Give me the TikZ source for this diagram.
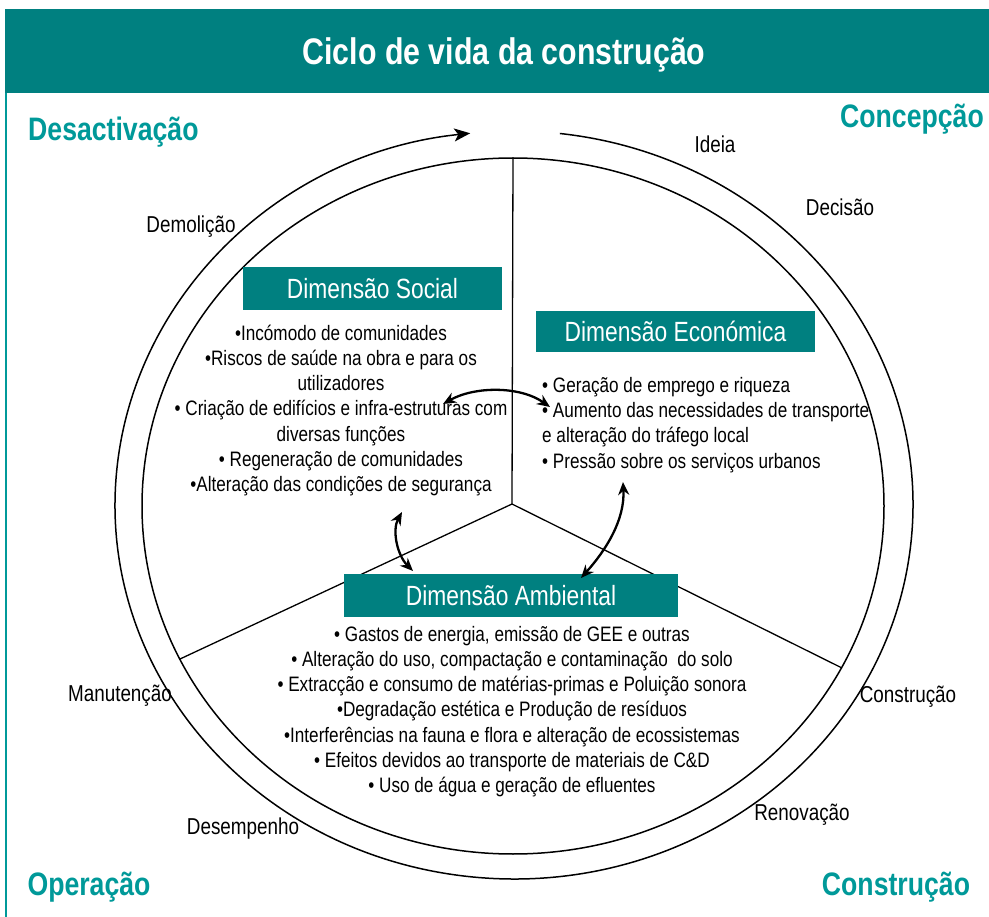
\documentclass[tikz,border=0pt]{standalone}
\usepackage{fontspec}
\setmainfont{Liberation Sans}[FakeStretch=0.82]
\usetikzlibrary{arrows.meta,calc}
\definecolor{barteal}{RGB}{0,128,128}
\definecolor{labteal}{RGB}{0,153,153}
\begin{document}
\begin{tikzpicture}[x=1pt,y=-1pt,
  body/.style={inner sep=0pt,font=\fontsize{20.9}{25.2}\selectfont},
  cyc/.style={inner sep=0pt,font=\fontsize{23}{25}\selectfont},
  corner/.style={inner sep=0pt,text=labteal,font=\bfseries\fontsize{32.5}{34}\selectfont},
  dimbox/.style={fill=barteal,draw=none,text=white,inner sep=0pt,font=\fontsize{27.8}{30}\selectfont},
  ring/.style={line width=1.5pt},
  divider/.style={line width=1.3pt},
  link/.style={line width=2.3pt,{Stealth[length=13pt,width=11pt]}-{Stealth[length=13pt,width=11pt]}}]
\useasboundingbox (0,0) rectangle (989,917);
% frame and title bar
\fill[barteal] (5,9.5) rectangle (989,93);
\draw[labteal,line width=2pt] (6,93) -- (6,917);
\node[inner sep=0pt,text=white,font=\bfseries\fontsize{37}{40}\selectfont] (title) at (504,55) {Ciclo de vida da construção};
% corner labels
\node[corner,anchor=west] (desact) at (28,132) {Desactivação};
\node[corner] (concep) at (912,119) {Concepção};
\node[corner] (operac) at (89,887) {Operação};
\node[corner] (constr) at (896,887) {Construção};
% ellipses
\coordinate (C1) at (513,506);
\coordinate (C2) at (514,505);
\draw[ring] (C1) ellipse [x radius=371pt, y radius=348pt];
\draw[ring,-{Stealth[length=16pt,width=13pt,inset=4pt]}] ($(C2)+(83.4:399pt and 374pt)$) arc[start angle=83.4, end angle=-263.7, x radius=399pt, y radius=374pt];
% dividers
\coordinate (ctr) at (512,504);
\coordinate (dtop) at (513,158);
\coordinate (dleft) at (180,659);
\coordinate (dright) at (841.6,667.8);
\draw[divider] (ctr) -- (dtop);
\draw[divider] (ctr) -- (dleft);
\draw[divider] (ctr) -- (dright);
% cycle labels
\node[cyc] (ideia) at (715,144) {Ideia};
\node[cyc] (decisao) at (840,207) {Decisão};
\node[cyc] (construcao) at (908,697) {Construção};
\node[cyc] (renovacao) at (802,815) {Renovação};
\node[cyc] (desempenho) at (243,829) {Desempenho};
\node[cyc] (manutencao) at (120,696) {Manutenção};
\node[cyc] (demolicao) at (191,227) {Demolição};
% dimension boxes
\node[dimbox,minimum width=259pt,minimum height=43pt] (social) at (372.5,288.5) {Dimensão Social};
\node[dimbox,minimum width=279pt,minimum height=41pt] (econ) at (675.5,331.5) {Dimensão Económica};
\node[dimbox,minimum width=334pt,minimum height=43pt] (amb) at (511,595.5) {Dimensão Ambiental};
% texts
\node[body,align=center] (soctxt) at (341,410.5) {•Incómodo de comunidades\\•Riscos de saúde na obra e para os\\utilizadores\\• Criação de edifícios e infra-estruturas com\\diversas funções\\• Regeneração de comunidades\\•Alteração das condições de segurança};
\node[body,align=left,anchor=west] (ecotxt) at (542,425) {• Geração de emprego e riqueza\\• Aumento das necessidades de transporte\\e alteração do tráfego local\\• Pressão sobre os serviços urbanos};
\node[body,align=center] (ambtxt) at (512,711.5) {• Gastos de energia, emissão de GEE e outras\\• Alteração do uso, compactação e contaminação\ \ do solo\\• Extracção e consumo de matérias-primas e Poluição sonora\\•Degradação estética e Produção de resíduos\\•Interferências na fauna e flora e alteração de ecossistemas\\• Efeitos devidos ao transporte de materiais de C\&D\\• Uso de água e geração de efluentes};
% links
\coordinate (se1) at (443,404);
\coordinate (se2) at (550,407);
\coordinate (ea1) at (623,482);
\coordinate (ea2) at (581,578);
\coordinate (sa1) at (402,512);
\coordinate (sa2) at (413,571);
\draw[link] (se1) .. controls (475,386) and (520,386) .. (se2);
\draw[link] (ea1) .. controls (625,520) and (606,550) .. (ea2);
\draw[link] (sa1) .. controls (392,530) and (397,555) .. (sa2);
\end{tikzpicture}
\end{document}
